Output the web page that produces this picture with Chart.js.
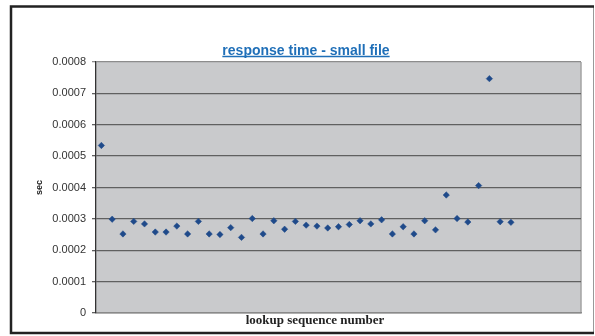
<!DOCTYPE html>
<html>
<head>
<meta charset="utf-8">
<script src="https://cdn.jsdelivr.net/npm/chart.js@4.4.1/dist/chart.umd.min.js"></script>
<style>
  html, body { margin: 0; padding: 0; background: #fff; }
  #wrap { width: 595px; height: 336px; }
</style>
</head>
<body>
<div id="wrap"><canvas id="chart" width="595" height="336"></canvas></div>
<script>
// lookup sequence numbers and response times (sec)
const lookupNumbers = [
  1, 2, 3, 4, 5, 6, 7, 8, 9, 10,
  11, 12, 13, 14, 15, 16, 17, 18, 19, 20,
  21, 22, 23, 24, 25, 26, 27, 28, 29, 30,
  31, 32, 33, 34, 35, 36, 37, 38, 39,
];
const responseTimes = [
  0.000534, 0.000299, 0.000252, 0.000292, 0.000284, 0.000258, 0.000258, 0.000277, 0.000252, 0.000292,
  0.000252, 0.000250, 0.000272, 0.000241, 0.000301, 0.000252, 0.000294, 0.000267, 0.000292, 0.000280,
  0.000277, 0.000271, 0.000275, 0.000282, 0.000294, 0.000284, 0.000297, 0.000252, 0.000275, 0.000252,
  0.000294, 0.000265, 0.000376, 0.000301, 0.000290, 0.000406, 0.000747, 0.000291, 0.000289,
];
const yTickLabels = ["0", "0.0001", "0.0002", "0.0003", "0.0004", "0.0005", "0.0006", "0.0007", "0.0008"];

const chartTitle = "response time - small file";
const xTitle = "lookup sequence number";
const yTitle = "sec";

// 🔹 Frame, plot background, title underline and x-axis title
const framePlugin = {
  id: "frame",
  beforeDraw(chart) {
    const { ctx, chartArea: a } = chart;
    ctx.save();
    ctx.fillStyle = "#ffffff";
    ctx.fillRect(0, 0, chart.width, chart.height);
    ctx.fillStyle = "#c9cacc";
    ctx.fillRect(a.left, a.top, a.right - a.left, a.bottom - a.top);
    // plot right edge
    ctx.strokeStyle = "#a3a3a3";
    ctx.lineWidth = 1.5;
    ctx.beginPath();
    ctx.moveTo(a.right, a.top);
    ctx.lineTo(a.right, a.bottom);
    ctx.stroke();
    // outer frame
    ctx.strokeStyle = "#999999";
    ctx.lineWidth = 1;
    ctx.beginPath();
    ctx.moveTo(593.5, 6);
    ctx.lineTo(593.5, 333);
    ctx.stroke();
    ctx.strokeStyle = "#222222";
    ctx.lineWidth = 2.5;
    ctx.beginPath();
    ctx.moveTo(594, 6.5);
    ctx.lineTo(11, 6.5);
    ctx.lineTo(11, 333);
    ctx.lineTo(594, 333);
    ctx.stroke();
    ctx.restore();
  },
  afterDraw(chart) {
    const { ctx } = chart;
    ctx.save();
    // underline the title
    ctx.font = "bold 14px 'Liberation Sans', Arial, sans-serif";
    const w = ctx.measureText(chartTitle).width;
    const cx = (chart.titleBlock.left + chart.titleBlock.right) / 2;
    ctx.strokeStyle = "#1f6fb8";
    ctx.lineWidth = 1.4;
    ctx.beginPath();
    ctx.moveTo(cx - w / 2, 56.5);
    ctx.lineTo(cx + w / 2, 56.5);
    ctx.stroke();
    // x-axis title
    ctx.font = "bold 13px 'Liberation Serif', 'Times New Roman', serif";
    ctx.fillStyle = "#222222";
    ctx.textAlign = "center";
    ctx.textBaseline = "middle";
    ctx.fillText(xTitle, 315, 321);
    ctx.restore();
  },
};

const ctx = document.getElementById("chart").getContext("2d");
new Chart(ctx, {
  type: "scatter",
  data: {
    datasets: [
      {
        label: "response time",
        data: lookupNumbers.map((n, i) => ({ x: n, y: responseTimes[i] })),
        pointStyle: "rectRot",
        pointRadius: 3.2,
        pointBorderWidth: 0.5,
        backgroundColor: "#1f4a8a",
        borderColor: "#1f4a8a",
      },
    ],
  },
  options: {
    responsive: false,
    animation: false,
    layout: { padding: { left: 31, right: 14, top: 0, bottom: 0 } },
    plugins: {
      legend: { display: false },
      tooltip: { enabled: false },
      title: {
        display: true,
        text: chartTitle,
        color: "#1f6fb8",
        font: { family: "'Liberation Sans', Arial, sans-serif", size: 14, weight: "bold" },
        padding: { top: 42.6, bottom: 2.6 },
      },
    },
    scales: {
      x: {
        type: "linear",
        min: 0.5,
        max: 45.5,
        ticks: { display: false },
        grid: { display: false },
        border: { display: true, color: "#8a8a8a", width: 1.5 },
        afterFit(scale) {
          scale.height = 23;
        },
      },
      y: {
        min: 0,
        max: 0.0008,
        ticks: {
          stepSize: 0.0001,
          padding: 6,
          color: "#333333",
          font: { family: "'Liberation Sans', Arial, sans-serif", size: 11 },
          callback: (v, i) => yTickLabels[i],
        },
        grid: {
          color: (c) => (c.index === 8 ? "#8c8c8c" : "#606060"),
          lineWidth: 1.3,
          tickLength: 4,
        },
        border: { display: true, color: "#333333", width: 1.3 },
        title: {
          display: true,
          text: yTitle,
          color: "#222222",
          font: { family: "'Liberation Sans', Arial, sans-serif", size: 9, weight: "bold" },
          padding: { top: 3, bottom: 0 },
        },
        afterFit(scale) {
          scale.width = 65;
        },
      },
    },
  },
  plugins: [framePlugin],
});
</script>
</body>
</html>
